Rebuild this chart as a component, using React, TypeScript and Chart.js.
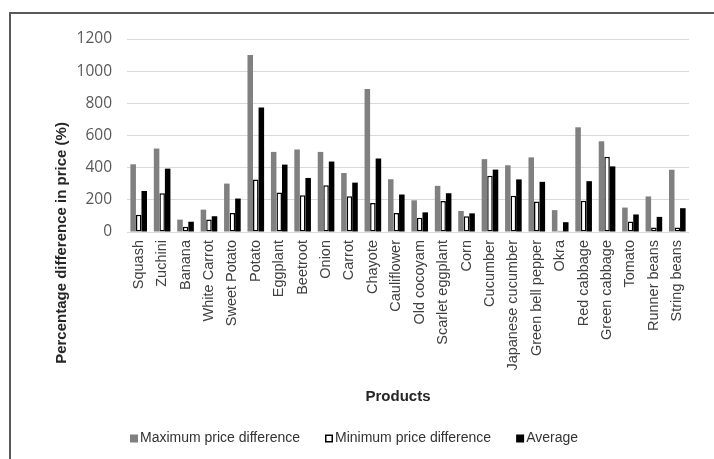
import React, { useEffect, useRef } from "react";
import { Chart, registerables } from "chart.js";

Chart.register(...registerables);

const categories = [
  "Squash", "Zuchini", "Banana", "White Carrot", "Sweet Potato", "Potato",
  "Eggplant", "Beetroot", "Onion", "Carrot", "Chayote", "Cauliflower",
  "Old cocoyam", "Scarlet eggplant", "Corn", "Cucumber", "Japanese cucumber",
  "Green bell pepper", "Okra", "Red cabbage", "Green cabbage", "Tomato",
  "Runner beans", "String beans",
];

const maxDiff = [421, 519, 77, 139, 301, 1100, 498, 513, 498, 367, 889, 328, 197, 287, 131, 453, 415, 464, 136, 651, 564, 152, 221, 387];
const minDiff = [108, 241, 33, 77, 118, 326, 245, 228, 291, 222, 181, 118, 89, 193, 98, 349, 226, 190, 8, 194, 468, 65, 28, 28];
const avgDiff = [255, 394, 64, 98, 208, 774, 419, 336, 438, 307, 457, 233, 122, 241, 116, 388, 327, 312, 61, 316, 408, 109, 94, 148];

const seriesLabels = ["Maximum price difference", "Minimum price difference", "Average"];
const yTitle = "Percentage difference in price (%)";
const xTitle = "Products";
const yMin = 0;
const yMax = 1200;
const yStep = 200;

const SANS = "'Liberation Sans', Arial, sans-serif";

const decor = {
  id: "decor",
  afterDraw(chart: any) {
    const ctx: CanvasRenderingContext2D = chart.ctx;
    // Y title
    ctx.save();
    ctx.font = `bold 15px ${SANS}`;
    ctx.fillStyle = "#262626";
    ctx.textAlign = "center";
    ctx.textBaseline = "middle";
    ctx.translate(62, 243);
    ctx.rotate(-Math.PI / 2);
    ctx.fillText(yTitle, 0, 0);
    ctx.restore();

    // X title
    ctx.save();
    ctx.font = `bold 15px ${SANS}`;
    ctx.fillStyle = "#262626";
    ctx.textAlign = "center";
    ctx.textBaseline = "middle";
    ctx.fillText(xTitle, 398, 397);
    ctx.restore();

    // Legend
    ctx.save();
    ctx.font = `14px ${SANS}`;
    ctx.textBaseline = "middle";
    ctx.textAlign = "left";
    const box = 8;
    const boxGap = 2;
    const itemGap = 25;
    const ds = chart.data.datasets;
    const widths = ds.map((d: any) => ctx.measureText(d.label).width);
    const total = widths.reduce((a: number, w: number) => a + box + boxGap + w, 0) + itemGap * (ds.length - 1);
    let x = 354 - total / 2;
    const cy = 438.5;
    ds.forEach((d: any, i: number) => {
      ctx.fillStyle = d.backgroundColor;
      ctx.fillRect(x, cy - box / 2, box, box);
      if (d.borderWidth) {
        ctx.strokeStyle = d.borderColor;
        ctx.lineWidth = 1.5;
        ctx.strokeRect(x + 0.75, cy - box / 2 + 0.75, box - 1.5, box - 1.5);
      }
      ctx.fillStyle = "#333333";
      ctx.fillText(d.label, x + box + boxGap, cy);
      x += box + boxGap + widths[i] + itemGap;
    });
    ctx.restore();
  },
};

export default function App() {
  const ref = useRef<HTMLCanvasElement | null>(null);

  useEffect(() => {
    if (!ref.current) return;
    const chart = new Chart(ref.current, {
      type: "bar",
      data: {
        labels: categories,
        datasets: [
          { label: seriesLabels[0], data: maxDiff, backgroundColor: "#808080", borderWidth: 0 },
          { label: seriesLabels[1], data: minDiff, backgroundColor: "#ffffff", borderColor: "#000000", borderWidth: 1.5, borderSkipped: false },
          { label: seriesLabels[2], data: avgDiff, backgroundColor: "#000000", borderWidth: 0 },
        ],
      },
      options: {
        responsive: false,
        animation: false,
        devicePixelRatio: 1,
        layout: { padding: { top: 39, right: 25, bottom: 0, left: 0 } },
        plugins: {
          legend: { display: false },
          tooltip: { enabled: false },
          title: { display: false },
        },
        datasets: { bar: { categoryPercentage: 0.71, barPercentage: 1.0 } },
        scales: {
          x: {
            grid: { display: false, drawTicks: false },
            border: { display: false },
            ticks: {
              minRotation: 90,
              maxRotation: 90,
              autoSkip: false,
              padding: 8,
              color: "#404040",
              font: { family: SANS, size: 14.5 },
            },
            afterFit: (s: any) => { s.height = 227; },
          },
          y: {
            min: yMin,
            max: yMax,
            ticks: {
              stepSize: yStep,
              padding: 15,
              color: "#595959",
              font: { family: "'Open Sans', sans-serif", size: 15.5 },
              callback: (v: any) => String(v),
            },
            grid: { color: "#d9d9d9", drawTicks: false },
            border: { display: false },
            afterFit: (s: any) => { s.width = 127; },
          },
        },
      },
      plugins: [decor],
    } as any);
    return () => chart.destroy();
  }, []);

  return (
    <div style={{ position: "fixed", left: 0, top: 0, width: 714, height: 459, overflow: "hidden", background: "#fff" }}>
      <div style={{ position: "absolute", left: 9, top: 12, width: 800, height: 600, border: "2px solid #595959", boxSizing: "border-box" }} />
      <canvas ref={ref} width={714} height={459} style={{ position: "absolute", left: 0, top: 0, width: 714, height: 459 }} />
    </div>
  );
}
